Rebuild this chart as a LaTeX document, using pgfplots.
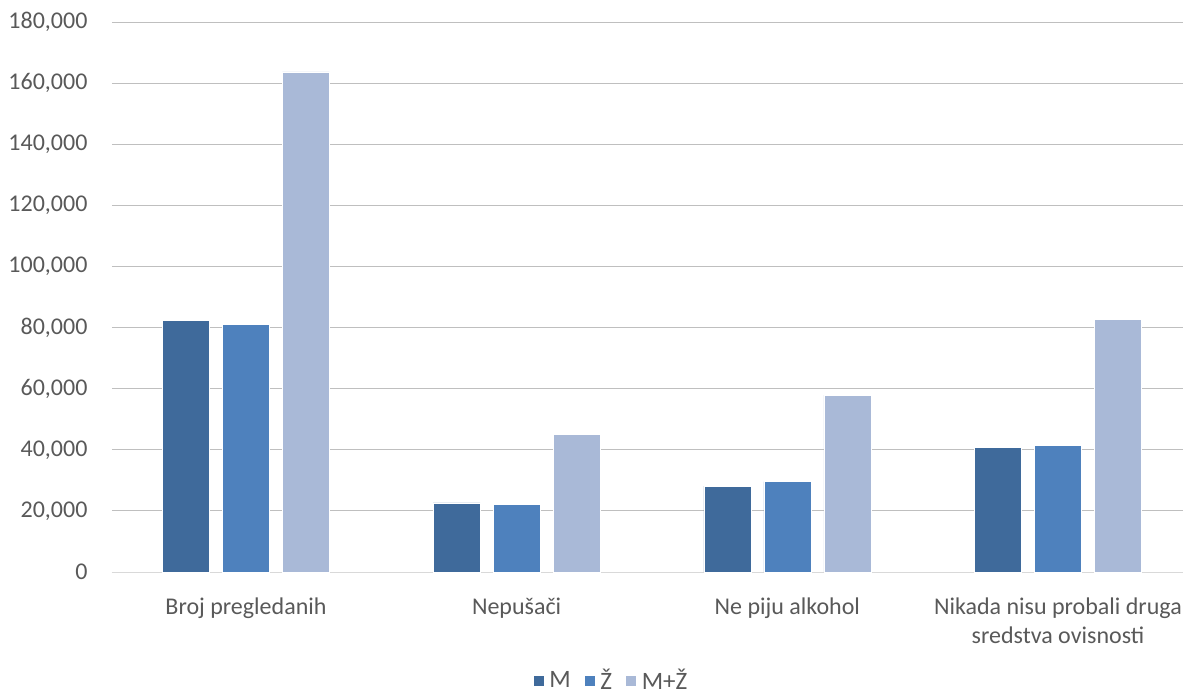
\documentclass[border=0pt]{standalone}
\usepackage{pgfplots}
\pgfplotsset{compat=1.18}
\usepackage{fontspec}
\setmainfont{Carlito}
\definecolor{cM}{HTML}{3F6A9B}
\definecolor{cZ}{HTML}{4E81BD}
\definecolor{cMZ}{HTML}{A9B9D7}
\definecolor{grid}{HTML}{D9D9D9}
\definecolor{txt}{HTML}{595959}
\begin{document}
\begin{tikzpicture}
\begin{axis}[
  scale only axis,
  width=1071pt, height=550pt,
  ybar=13pt, bar width=47pt,
  xmin=-0.495, xmax=3.462,
  ymin=0, ymax=180000,
  ytick={0,20000,...,180000},
  xtick={0,1,2,3},
  xticklabels={Broj pregledanih, Nepušači, Ne piju alkohol, {Nikada nisu probali druga\\sredstva ovisnosti}},
  x tick label style={align=center, font=\fontsize{24}{29}\selectfont, text=txt, yshift=-18pt},
  y tick label style={font=\fontsize{24}{29}\selectfont, text=txt, xshift=-21pt},
  /pgf/number format/assume math mode=true,
  scaled y ticks=false,
  yticklabel={\pgfmathprintnumber[fixed, 1000 sep={,}]{\tick}},
  ymajorgrids, xmajorgrids=false, grid style={grid, line width=1pt},
  xtick style={draw=none}, ytick style={draw=none},
  axis line style={draw=none},
  legend style={at={(0.466,-0.196)}, anchor=center, draw=none, legend columns=3,
    font=\fontsize{25}{29}\selectfont, text=txt,
    /tikz/every odd column/.append style={column sep=3pt},
    /tikz/every even column/.append style={column sep=11pt}},
  legend image code/.code={\fill[#1] (0pt,-6pt) rectangle (11pt,5pt);},
  clip=false,
]
\draw[grid, line width=1pt] (axis cs:-0.495,0) -- (axis cs:3.462,0);
\addplot[fill=cM, draw=white, line width=0.6pt] coordinates {(0,82400) (1,22600) (2,28100) (3,40800)};
\addplot[fill=cZ, draw=white, line width=0.6pt] coordinates {(0,81100) (1,22100) (2,29600) (3,41500)};
\addplot[fill=cMZ, draw=white, line width=0.6pt] coordinates {(0,163700) (1,45100) (2,57900) (3,82600)};
\legend{M, Ž, M+Ž}
\end{axis}
\path (current axis.south west) ++(-112pt,-125pt) rectangle ++(1187pt,697pt);
\end{tikzpicture}
\end{document}
